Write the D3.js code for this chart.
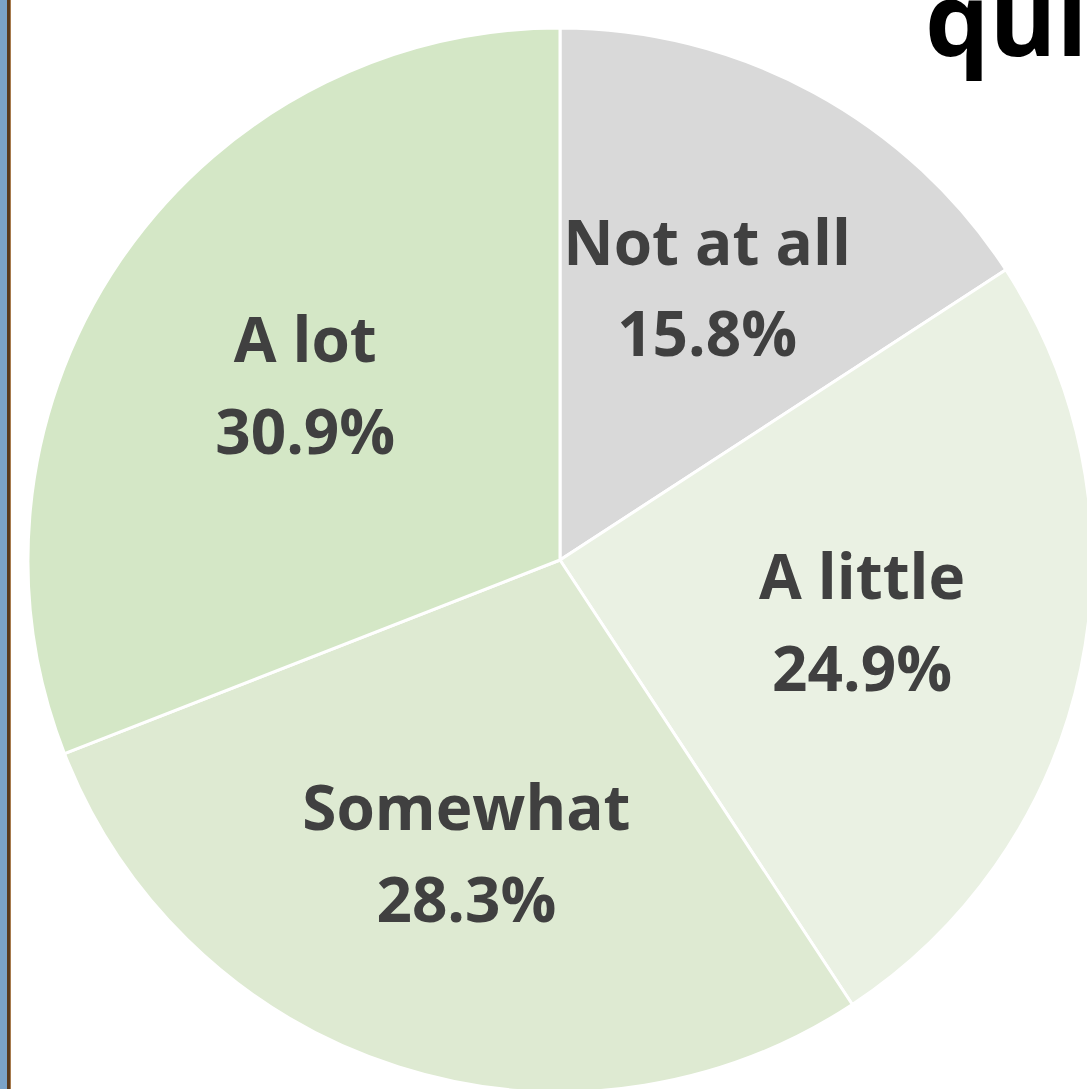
<!DOCTYPE html>
<html>
<head>
<meta charset="utf-8">
<script src="https://cdn.jsdelivr.net/npm/d3@7"></script>
<style>
  html, body { margin: 0; padding: 0; background: #fff; overflow: hidden; }
  svg { display: block; }
</style>
</head>
<body>
<script>
// Survey answers, clockwise from twelve o'clock
const categories = ["Not at all", "A little", "Somewhat", "A lot"];
const values = [15.8, 24.9, 28.3, 30.9];
const colors = ["#D9D9D9", "#EAF1E3", "#DEEAD2", "#D4E7C6"];
const titleFragment = "quit";

const W = 1087, H = 1089;
const cx = 560, cy = 560, R = 532;

const svg = d3.select("body").append("svg")
  .attr("width", W).attr("height", H);

svg.append("rect").attr("width", W).attr("height", H).attr("fill", "#fff");

// page frame on the left
svg.append("rect").attr("x", 0).attr("y", 0).attr("width", 7).attr("height", H).attr("fill", "#7BA3C8");
svg.append("rect").attr("x", 7).attr("y", 0).attr("width", 3).attr("height", H).attr("fill", "#5A3A1C");
svg.append("rect").attr("x", 10).attr("y", 0).attr("width", 1).attr("height", H).attr("fill", "#A77B4E");

const data = categories.map((c, i) => ({ cat: c, value: values[i], color: colors[i] }));

const pie = d3.pie().value(d => d.value).sort(null);
const arcs = pie(data);
const arc = d3.arc().innerRadius(0).outerRadius(R);
const labelArc = d3.arc().innerRadius(R * 0.58).outerRadius(R * 0.58);

const g = svg.append("g").attr("transform", `translate(${cx},${cy})`);

g.selectAll("path.slice").data(arcs).join("path")
  .attr("class", "slice")
  .attr("d", arc)
  .attr("fill", d => d.data.color)
  .attr("stroke", "#fff")
  .attr("stroke-width", 3)
  .attr("stroke-linejoin", "round");

// two-line labels (category, percentage), block centred on the slice centroid
const fontFam = "'Open Sans', 'Liberation Sans', sans-serif";
const labels = g.selectAll("text.lbl").data(arcs).join("text")
  .attr("class", "lbl")
  .attr("transform", d => `translate(${labelArc.centroid(d)})`)
  .attr("text-anchor", "middle")
  .attr("font-family", fontFam)
  .attr("font-weight", 700)
  .attr("font-size", 62)
  .attr("fill", "#404040");
labels.append("tspan").attr("x", 0).attr("dy", "-0.39em").text(d => d.data.cat);
labels.append("tspan").attr("x", 0).attr("dy", "1.48em").text(d => d.data.value.toFixed(1) + "%");

// title, running off the top-right corner
svg.append("text")
  .attr("x", 925).attr("y", 56)
  .attr("font-family", fontFam)
  .attr("font-weight", 700)
  .attr("font-size", 102)
  .attr("fill", "#000")
  .text(titleFragment);
</script>
</body>
</html>
